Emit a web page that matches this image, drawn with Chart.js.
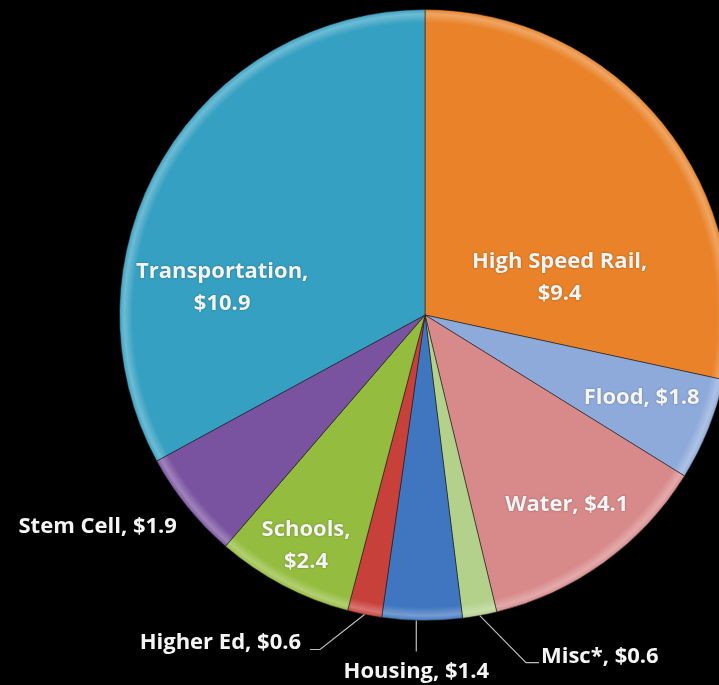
<!DOCTYPE html>
<html>
<head>
<meta charset="utf-8">
<script src="https://cdn.jsdelivr.net/npm/chart.js@4"></script>
<style>
  html, body { margin: 0; padding: 0; background: #000; overflow: hidden; }
  #wrap { position: absolute; left: 0; top: 0; width: 800px; height: 685px; }
</style>
</head>
<body>
<div id="wrap"><canvas id="pie" width="800" height="685"></canvas></div>
<script>
// Bond allocations, billions of dollars
const categories = ['High Speed Rail', 'Flood', 'Water', 'Misc*', 'Housing', 'Higher Ed', 'Schools', 'Stem Cell', 'Transportation'];
const values = [9.4, 1.8, 4.1, 0.6, 1.4, 0.6, 2.4, 1.9, 10.9];
const sliceColors = ['#E98228', '#8EAADB', '#D8898A', '#B3D18A', '#3F76BF', '#C8403A', '#94BC3E', '#7A53A0', '#35A0C2'];

// Label placement: angle (deg clockwise from top) and distance as a fraction of the radius
const labelLayout = [
  { angle: 74.7,  dist: 0.457, split: true },
  { angle: 110.9, dist: 0.759 },
  { angle: 143.2, dist: 0.775 },
  { angle: 152.9, dist: 1.256, leader: 'right' },
  { angle: 181.4, dist: 1.167, leader: 'down' },
  { angle: 212.0, dist: 1.264, leader: 'left' },
  { angle: 207.3, dist: 0.849, split: true },
  { angle: 237.1, dist: 1.276 },
  { angle: 277.7, dist: 0.67,  split: true }
];

function mix(hex, amt) {
  const n = parseInt(hex.slice(1), 16);
  const r = (n >> 16) & 255, g = (n >> 8) & 255, b = n & 255;
  const f = c => Math.round(c + (255 - c) * amt);
  return `rgb(${f(r)},${f(g)},${f(b)})`;
}

function sliceFill(ctx) {
  const base = sliceColors[ctx.dataIndex];
  const chart = ctx.chart;
  const a = chart.chartArea;
  if (!a) return base;
  const cx = (a.left + a.right) / 2, cy = (a.top + a.bottom) / 2;
  const r = Math.min(a.right - a.left, a.bottom - a.top) / 2;
  const g = chart.ctx.createRadialGradient(cx, cy, 0, cx, cy, r);
  g.addColorStop(0, base);
  g.addColorStop(0.955, base);
  g.addColorStop(0.983, mix(base, 0.28));
  g.addColorStop(1, base);
  return g;
}

const labelPlugin = {
  id: 'sliceLabels',
  afterDatasetsDraw(chart) {
    const arc0 = chart.getDatasetMeta(0).data[0];
    if (!arc0) return;
    const cx = arc0.x, cy = arc0.y, R = arc0.outerRadius;
    const c = chart.ctx;
    c.save();
    c.font = 'bold 22px "Open Sans", sans-serif';
    c.textAlign = 'center';
    c.textBaseline = 'middle';
    c.fillStyle = '#F5F5F5';
    c.shadowColor = 'rgba(0,0,0,0.35)';
    c.shadowBlur = 2;
    const lineH = 32;
    chart.getDatasetMeta(0).data.forEach((arc, i) => {
      const lay = labelLayout[i];
      const th = lay.angle * Math.PI / 180;
      const lx = cx + Math.sin(th) * lay.dist * R;
      const ly = cy - Math.cos(th) * lay.dist * R;
      const valueText = '$' + values[i].toFixed(1);
      if (lay.split) {
        c.fillText(categories[i] + ',', lx, ly - lineH / 2);
        c.fillText(valueText, lx, ly + lineH / 2);
      } else {
        const txt = categories[i] + ', ' + valueText;
        c.fillText(txt, lx, ly);
        if (lay.leader) {
          const w = c.measureText(txt).width;
          const mid = (arc.startAngle + arc.endAngle) / 2;
          c.save();
          c.shadowColor = 'transparent';
          c.strokeStyle = '#BDBDBD';
          c.lineWidth = 1.2;
          c.beginPath();
          if (lay.leader === 'left') {
            const xr = lx + w / 2;
            c.moveTo(cx + Math.cos(mid) * R, cy + Math.sin(mid) * R);
            c.lineTo(xr + 19, ly + 7);
            c.lineTo(xr + 9, ly + 7);
          } else if (lay.leader === 'right') {
            const xl = lx - w / 2;
            c.moveTo(cx + Math.cos(mid) * R, cy + Math.sin(mid) * R);
            c.lineTo(xl - 15, ly + 6);
            c.lineTo(xl - 2, ly + 6);
          } else {
            const dx = lx - cx;
            const ey = cy + Math.sqrt(Math.max(R * R - dx * dx, 0));
            c.moveTo(lx, ey);
            c.lineTo(lx, ly - 20);
          }
          c.stroke();
          c.restore();
        }
      }
    });
    c.restore();
  }
};

new Chart(document.getElementById('pie'), {
  type: 'pie',
  data: {
    labels: categories,
    datasets: [{
      data: values,
      backgroundColor: sliceFill,
      borderColor: 'rgba(25,25,25,0.55)',
      borderWidth: 1
    }]
  },
  options: {
    responsive: false,
    devicePixelRatio: 1,
    animation: false,
    layout: { padding: { left: 119, right: 69, top: 9, bottom: 64 } },
    plugins: { legend: { display: false }, tooltip: { enabled: false } }
  },
  plugins: [labelPlugin]
});
</script>
</body>
</html>
